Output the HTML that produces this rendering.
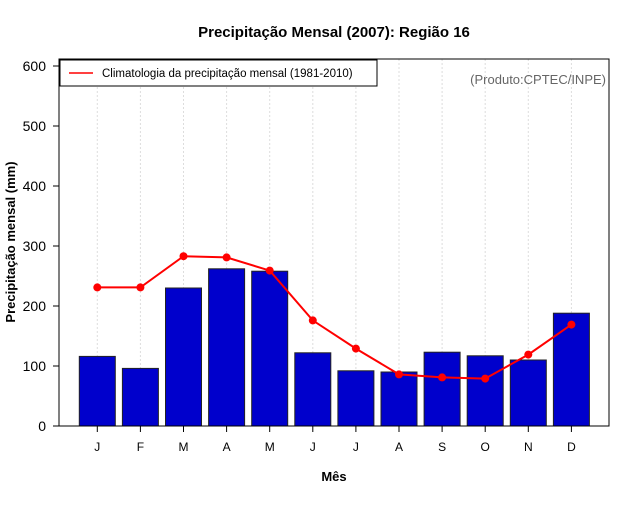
<!DOCTYPE html>
<html><head><meta charset="utf-8"><style>
body{margin:0;background:#fff;}
svg text{font-family:"Liberation Sans",sans-serif;}
</style></head><body>
<svg id="chart" width="640" height="500" xmlns="http://www.w3.org/2000/svg">
<rect width="640" height="500" fill="#fff"/>
<text x="334" y="37" text-anchor="middle" font-size="15" font-weight="bold">Precipitação Mensal (2007): Região 16</text>
<text x="334" y="481" text-anchor="middle" font-size="13" font-weight="bold">Mês</text>
<text transform="translate(15,242) rotate(-90)" text-anchor="middle" font-size="13" font-weight="bold">Precipitação mensal (mm)</text>
<g id="grid"></g>
<g id="bars"></g>
<g id="line"></g>
<g id="axes"></g>
<rect x="59" y="59" width="550" height="367" fill="none" stroke="#000" stroke-width="1"/>
<g>
<rect x="60" y="60" width="317" height="26" fill="#fff" stroke="#000"/>
<line x1="69" y1="73" x2="93" y2="73" stroke="red" stroke-width="1.5"/>
<text x="102" y="77" font-size="11.5">Climatologia da precipitação mensal (1981-2010)</text>
</g>
<text x="606" y="84" text-anchor="end" font-size="13" fill="#666">(Produto:CPTEC/INPE)</text>
</svg>
<script>
const months = ["J","F","M","A","M","J","J","A","S","O","N","D"];
const precip2007 = [116,96,230,262,258,122,92,90,123,117,110,188];
const climatology = [231,231,283,281,259,176,129,86,81,79,119,169];
const yTicks = [0,100,200,300,400,500,600];

const NS = "http://www.w3.org/2000/svg";
const x = i => 97.3 + i * 43.1;
const y = v => 426 - v * 0.6;
function mk(tag, attrs, parent, txt){
  const e = document.createElementNS(NS, tag);
  for (const k in attrs) e.setAttribute(k, attrs[k]);
  if (txt !== undefined) e.textContent = txt;
  document.getElementById(parent).appendChild(e);
  return e;
}
months.forEach((m,i)=>{
  const g = mk("line",{x1:x(i),x2:x(i),y1:59,y2:426,stroke:"#ddd","stroke-dasharray":"2,2"},"grid");
  
  
  const b = mk("rect",{x:x(i)-18,y:y(precip2007[i]),width:36,height:426-y(precip2007[i]),fill:"#0000cc",stroke:"#222","stroke-width":1},"bars");
  
  
  const t = mk("line",{x1:x(i),x2:x(i),y1:426,y2:432,stroke:"#000"},"axes");
  
  
  const l = mk("text",{x:x(i),y:451,"text-anchor":"middle","font-size":12},"axes",m);
  
  
});
const pts = climatology.map((v,i)=>x(i)+","+y(v)).join(" ");
const pl = mk("polyline",{points:pts,fill:"none",stroke:"red","stroke-width":2},"line");


climatology.forEach((v,i)=>{
  const c = mk("circle",{cx:x(i),cy:y(v),r:4,fill:"red"},"line");
  
  
});
yTicks.forEach(v=>{
  const t = mk("line",{x1:53,x2:59,y1:y(v),y2:y(v),stroke:"#000"},"axes");
  
  
  const l = mk("text",{x:46,y:y(v)+5,"text-anchor":"end","font-size":14},"axes",v);
  
  
});
</script>
</body></html>
